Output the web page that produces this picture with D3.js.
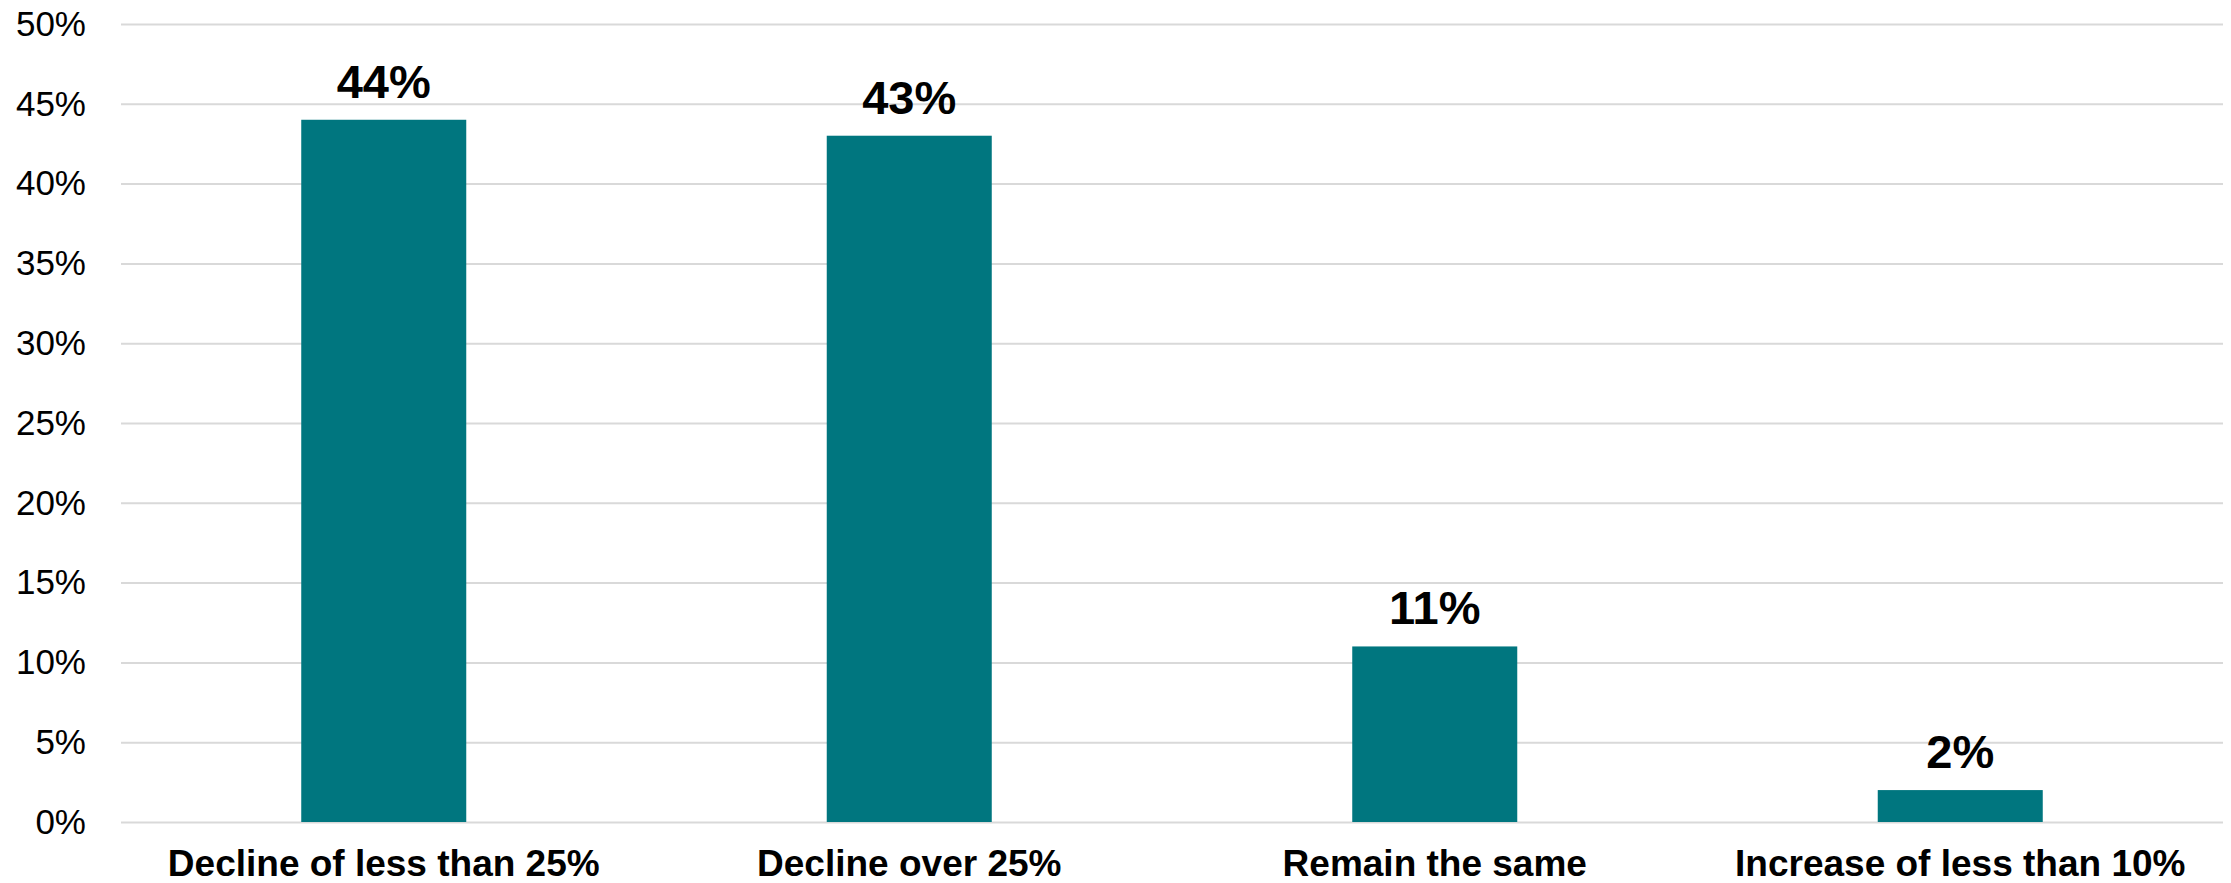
<!DOCTYPE html>
<html>
<head>
<meta charset="utf-8">
<script src="https://cdn.jsdelivr.net/npm/d3@7"></script>
<style>
    html, body { margin: 0; padding: 0; background: #fff; }
    svg { display: block; font-family: "Liberation Sans", Arial, sans-serif; }
</style>
</head>
<body>
<svg id="chart" width="2231" height="883"></svg>
<script>
// chart data
const categories = ['Decline of less than 25%', 'Decline over 25%', 'Remain the same', 'Increase of less than 10%'];
const values = [44, 43, 11, 2];
const yTicks = [0, 5, 10, 15, 20, 25, 30, 35, 40, 45, 50];

var margin = {top: 24, right: 8, bottom: 61, left: 121},
    width = 2231 - margin.left - margin.right,
    height = 883 - margin.top - margin.bottom;

var svg = d3.select('#chart');
var g = svg.append('g')
    .attr('transform', 'translate(' + margin.left + ',' + margin.top + ')');

// scales
var xScale = d3.scaleBand()
    .domain(categories)
    .range([0, width])
    .paddingInner(0.686)
    .paddingOuter(0.343);
var yScale = d3.scaleLinear()
    .domain([0, 50])
    .range([height, 0]);

// gridlines
var yGrid = d3.axisLeft(yScale).tickValues(yTicks).tickSize(-width).tickFormat('');
g.append('g')
    .attr('class', 'grid')
    .call(yGrid)
    .call(s => s.select('.domain').remove())
    .selectAll('line')
        .attr('stroke', '#d9d9d9')
        .attr('stroke-width', 2);

// y axis labels
var yAxis = d3.axisLeft(yScale).tickValues(yTicks).tickSize(0).tickPadding(35).tickFormat(d => d + '%');
g.append('g')
    .call(yAxis)
    .call(s => s.select('.domain').remove())
    .selectAll('text')
        .attr('font-size', '35px')
        .attr('font-family', '"Liberation Sans", Arial, sans-serif')
        .attr('fill', '#000');

// bars
g.selectAll('.bar')
    .data(values)
    .join('rect')
        .attr('class', 'bar')
        .attr('x', (d, i) => xScale(categories[i]))
        .attr('width', xScale.bandwidth())
        .attr('y', d => yScale(d))
        .attr('height', d => height - yScale(d))
        .attr('fill', '#00767f');

// value labels
g.selectAll('.value')
    .data(values)
    .join('text')
        .attr('class', 'value')
        .attr('x', (d, i) => xScale(categories[i]) + xScale.bandwidth() / 2)
        .attr('y', d => yScale(d) - 22)
        .attr('text-anchor', 'middle')
        .attr('font-size', '47px')
        .attr('font-weight', 'bold')
        .attr('fill', '#000')
        .text(d => d + '%');

// x axis labels
var xAxis = d3.axisBottom(xScale).tickSize(0).tickPadding(28);
g.append('g')
    .attr('transform', `translate(0,${height})`)
    .call(xAxis)
    .call(s => s.select('.domain').remove())
    .selectAll('text')
        .attr('font-size', '37px')
        .attr('font-weight', 'bold')
        .attr('font-family', '"Liberation Sans", Arial, sans-serif')
        .attr('fill', '#000');
</script>
</body>
</html>
